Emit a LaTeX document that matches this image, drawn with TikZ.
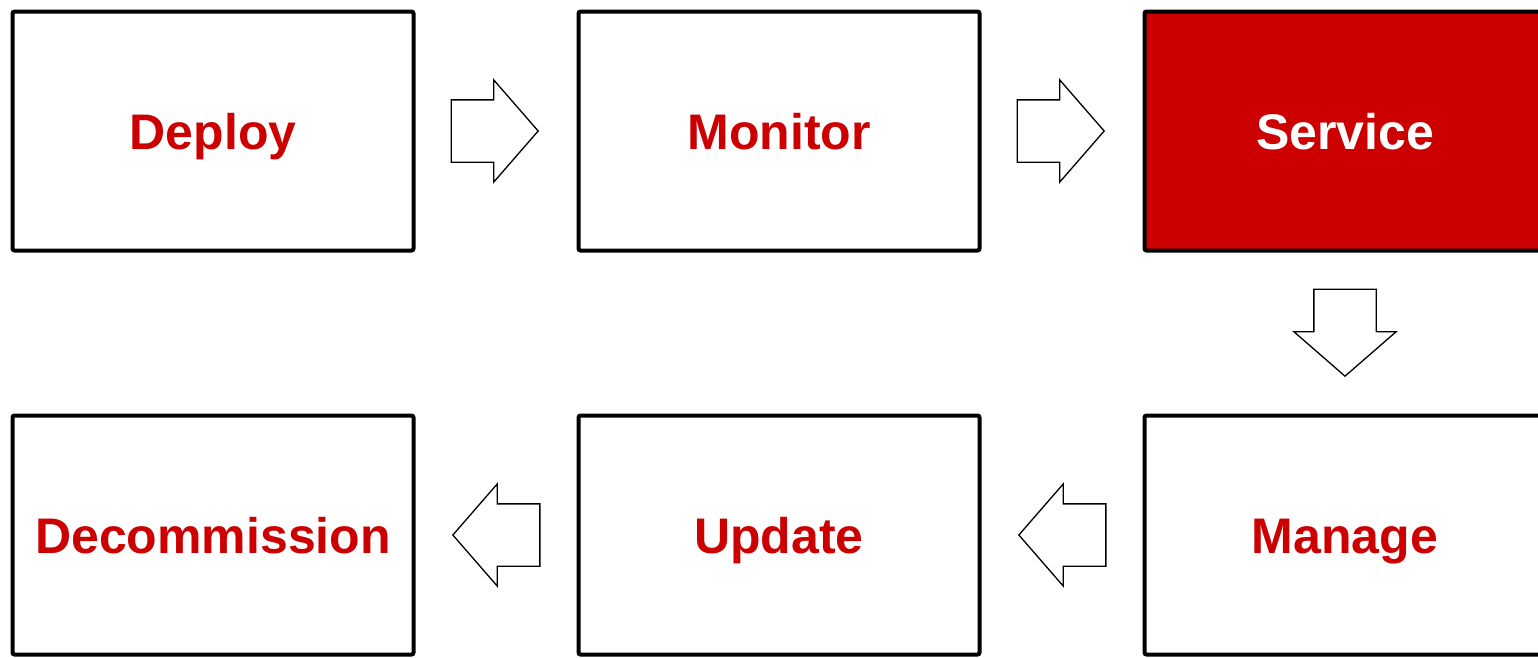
\documentclass[tikz,border=0pt]{standalone}
\usepackage{fontspec}
\setmainfont{Liberation Sans}
\usetikzlibrary{positioning,shapes.arrows,calc}
\definecolor{stagered}{HTML}{CC0000}

\begin{document}
\begin{tikzpicture}[
        box/.style = {
            draw,
            line width=4pt,
            rounded corners=2pt,
            minimum width=401pt,
            minimum height=239pt,
            align=center,
            text height=36pt,
            text depth=0pt,
            text=stagered,
            font=\fontsize{50}{60}\selectfont\bfseries
        },
        blockarrow/.style = {
            single arrow,
            draw,
            fill=white,
            line width=1.3pt,
            anchor=tail,
            inner xsep=0pt,
            inner ysep=30.5pt,
            minimum height=87pt,
            single arrow head extend=20pt,
            single arrow tip angle=98
        },node distance=161pt]

        \useasboundingbox (0,0) rectangle (1538pt,-657pt);

        \node[box] (deploy) at (213pt,-131pt) {Deploy};
        \node[box, right=of deploy] (monitor) {Monitor};
        \node[box, right=of monitor, fill=stagered, text=white] (service) {Service};
        \node[box, below=of service] (manage) {Manage};
        \node[box, left=of manage] (update) {Update};
        \node[box, left=of update] (decommission) {Decommission};

        \node[blockarrow] (a) at ($(deploy.east)+(35pt,0)$) {};
        \node[blockarrow] (b) at ($(monitor.east)+(35pt,0)$) {};
        \node[blockarrow, shape border rotate=270, inner xsep=30.5pt, inner ysep=0pt] (c) at ($(service.south)+(0,-36pt)$) {};
        \node[blockarrow, shape border rotate=180] (d) at ($(manage.west)+(-36pt,0)$) {};
        \node[blockarrow, shape border rotate=180] (e) at ($(update.west)+(-36pt,0)$) {};
    \end{tikzpicture}
\end{document}
